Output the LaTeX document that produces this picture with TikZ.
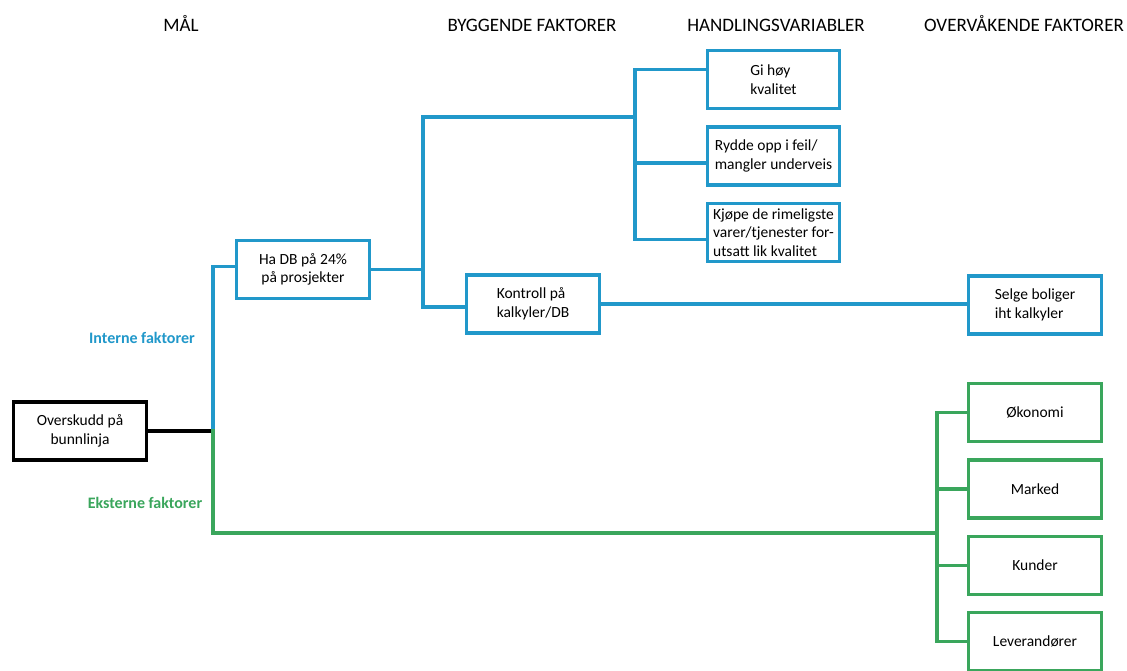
\documentclass[tikz,border=0pt]{standalone}
\usepackage{fontspec}
\setmainfont{Carlito}
\usepackage{tikz}
\usetikzlibrary{positioning}
\definecolor{faktorblue}{RGB}{33,152,202}
\definecolor{faktorgreen}{RGB}{58,166,92}
\tikzset{
  box/.style={draw, line width=3.2pt, minimum width=133pt, minimum height=58pt, inner sep=2pt,
    align=center, font=\fontsize{15.5}{18.5}\selectfont},
  bluebox/.style={box, draw=faktorblue},
  greenbox/.style={box, draw=faktorgreen},
  header/.style={font=\fontsize{19}{22}\selectfont, anchor=base},
  blueline/.style={draw=faktorblue, line width=3.2pt, line cap=rect},
  greenline/.style={draw=faktorgreen, line width=3.2pt, line cap=rect},
}

\begin{document}
\begin{tikzpicture}[x=1pt, y=-1pt]
\useasboundingbox[fill=white] (0,0) rectangle (1127,670);
% column headings
\node[header] (mal) at (181,31) {MÅL};
\node[header] (bygg) at (532,31) {BYGGENDE FAKTORER};
\node[header] (handl) at (776,31) {HANDLINGSVARIABLER};
\node[header] (overv) at (1024,31) {OVERVÅKENDE FAKTORER};

% boxes
\node[box, draw=black] (oversk) at (80,431) {Overskudd på\\bunnlinja};
\node[bluebox] (hadb) at (303,269.5) {Ha DB på 24\%\\på prosjekter};
\node[bluebox, align=left] (kontroll) at (533,304) {Kontroll på\hspace{18pt}\\kalkyler/DB\hspace{32pt}};
\node[bluebox, minimum width=132pt, align=left] (gi) at (773.5,79.5) {Gi høy\hspace{22pt}\\kvalitet};
\node[bluebox, minimum width=132pt, align=left] (rydde) at (773.5,156) {Rydde opp i feil/\\mangler underveis};
\node[bluebox, minimum width=132pt, align=left, font=\fontsize{15.5}{18.2}\selectfont] (kjope) at (773.5,232.5) {Kjøpe de rimeligste\\varer/tjenester for-\\utsatt lik kvalitet};
\node[bluebox, align=left] (selge) at (1035,305) {Selge boliger\hspace{6pt}\\iht kalkyler};
\node[greenbox] (okon) at (1035,412.5) {Økonomi};
\node[greenbox] (marked) at (1035,489) {Marked};
\node[greenbox] (kunder) at (1035,565.5) {Kunder};
\node[greenbox] (lev) at (1035,641.5) {Leverandører};

% side labels
\node[font=\bfseries\fontsize{16}{19}\selectfont, text=faktorblue] (intern) at (142,338) {Interne faktorer};
\node[font=\bfseries\fontsize{16}{19}\selectfont, text=faktorgreen] (ekstern) at (145,503) {Eksterne faktorer};

% junctions
\coordinate (j0) at (213,431);
\coordinate (jb) at (423,269.5);
\coordinate (jh) at (635,117);
\coordinate (jg) at (937,533);

% connectors
\draw[line width=3.2pt, line cap=rect] (oversk.east) -- (j0);
\draw[blueline] (j0) |- ([yshift=3pt]hadb.west);
\draw[greenline] (j0) |- (jg);
\draw[blueline] (hadb.east) -- (jb);
\draw[blueline] (jb) |- (jh);
\draw[blueline] (jb) |- ([yshift=-3pt]kontroll.west);
\draw[blueline] (jh) |- ([yshift=10pt]gi.west);
\foreach \n in {rydde,kjope}
  \draw[blueline] (jh) |- ([yshift=-7pt]\n.west);
\draw[blueline] (kontroll.east) -- (kontroll.east -| selge.west);
\foreach \n in {okon,marked,kunder,lev}
  \draw[greenline] (jg) |- (\n.west);
\end{tikzpicture}
\end{document}
